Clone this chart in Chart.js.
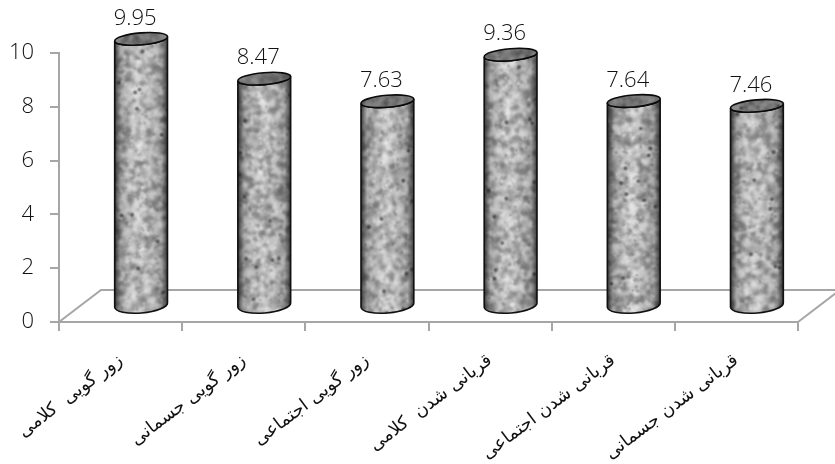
<!DOCTYPE html>
<html lang="fa">
<head>
<meta charset="utf-8">
<title>chart</title>
<script src="https://cdn.jsdelivr.net/npm/chart.js@4"></script>
<style>
  html, body { margin: 0; padding: 0; background: #fff; }
  canvas { display: block; }
</style>
</head>
<body>
<canvas id="myChart" width="835" height="464"></canvas>
<script>
const categories = [
  "زور گویی  کلامی",
  "زور گویی جسمانی",
  "زور گویی اجتماعی",
  "قربانی شدن  کلامی",
  "قربانی شدن اجتماعی",
  "قربانی شدن جسمانی",
];
const values = [9.95, 8.47, 7.63, 9.36, 7.64, 7.46];
const valueLabels = ["9.95", "8.47", "7.63", "9.36", "7.64", "7.46"];

const axisColor = "#a6a6a6";
const depthX = 42; // 3d floor depth
const depthY = 32;

// stone texture for the cylinders (only the fill, not data)
function makeTexture(w, h, seed) {
  const c = document.createElement("canvas");
  c.width = w;
  c.height = h;
  const g = c.getContext("2d");
  let s = seed;
  const rnd = () => {
    s = (s * 16807) % 2147483647;
    return s / 2147483647;
  };
  g.fillStyle = "#b0b0b0";
  g.fillRect(0, 0, w, h);
  for (let i = 0; i < w * h / 9; i++) {
    const x = rnd() * w;
    const y = rnd() * h;
    const r = 2 + rnd() * 4;
    const light = rnd() > 0.42;
    const col = light ? "235,235,235" : "105,105,105";
    const grad = g.createRadialGradient(x, y, 0, x, y, r);
    grad.addColorStop(0, `rgba(${col},0.5)`);
    grad.addColorStop(1, `rgba(${col},0)`);
    g.fillStyle = grad;
    g.fillRect(x - r, y - r, r * 2, r * 2);
  }
  for (let i = 0; i < h / 22; i++) {
    const x = rnd() * w;
    const y = rnd() * h;
    const grad = g.createRadialGradient(x, y, 0, x, y, 3);
    grad.addColorStop(0, "rgba(35,35,35,0.8)");
    grad.addColorStop(1, "rgba(35,35,35,0)");
    g.fillStyle = grad;
    g.fillRect(x - 3, y - 3, 6, 6);
  }
  return c;
}

function drawCylinder(ctx, cx, top, base, rx, seed) {
  const tilt = -0.085;
  const ryTop = 6;
  const ryBase = 8;
  const dx = rx * Math.cos(tilt);
  const dy = rx * Math.sin(tilt);
  const tex = makeTexture(Math.ceil(rx * 2) + 2, Math.ceil(base - top) + 20, seed);

  ctx.save();
  ctx.beginPath();
  ctx.moveTo(cx - dx, top - dy);
  ctx.lineTo(cx - dx, base - dy);
  ctx.ellipse(cx, base, rx, ryBase, tilt, Math.PI, 0, true);
  ctx.lineTo(cx + dx, top + dy);
  ctx.ellipse(cx, top, rx, ryTop, tilt, 0, Math.PI, false);
  ctx.closePath();
  ctx.save();
  ctx.clip();
  ctx.drawImage(tex, cx - rx - 1, top - 8);
  // round shading
  const shade = ctx.createLinearGradient(cx - rx, 0, cx + rx, 0);
  shade.addColorStop(0, "rgba(15,15,15,0.8)");
  shade.addColorStop(0.12, "rgba(40,40,40,0.22)");
  shade.addColorStop(0.45, "rgba(255,255,255,0.1)");
  shade.addColorStop(0.88, "rgba(40,40,40,0.22)");
  shade.addColorStop(1, "rgba(15,15,15,0.8)");
  ctx.fillStyle = shade;
  ctx.fillRect(cx - rx - 1, top - 10, rx * 2 + 2, base - top + 30);
  ctx.restore();
  ctx.strokeStyle = "#111";
  ctx.lineWidth = 1.6;
  ctx.stroke();

  // top cap
  ctx.beginPath();
  ctx.ellipse(cx, top, rx, ryTop, tilt, 0, Math.PI * 2);
  ctx.save();
  ctx.clip();
  ctx.drawImage(tex, cx - rx - 1, top - 8);
  ctx.fillStyle = "rgba(40,40,40,0.45)";
  ctx.fillRect(cx - rx - 1, top - 10, rx * 2 + 2, 20);
  ctx.restore();
  ctx.strokeStyle = "#0a0a0a";
  ctx.lineWidth = 1.6;
  ctx.stroke();
  ctx.restore();
}

const cylinderPlugin = {
  id: "cylinders",
  beforeDatasetsDraw(chart) {
    // floor of the 3d chart
    const { ctx, chartArea: a } = chart;
    ctx.save();
    ctx.strokeStyle = axisColor;
    ctx.lineWidth = 2;
    ctx.beginPath();
    ctx.moveTo(a.left, a.bottom);
    ctx.lineTo(a.left + depthX, a.bottom - depthY);
    ctx.lineTo(a.right + depthX, a.bottom - depthY);
    ctx.moveTo(a.right, a.bottom);
    ctx.lineTo(a.right + depthX, a.bottom - depthY);
    ctx.stroke();
    ctx.restore();
  },
  afterDatasetsDraw(chart) {
    const { ctx } = chart;
    const meta = chart.getDatasetMeta(0);
    meta.data.forEach((bar, i) => {
      const cx = bar.x + 20.5;
      drawCylinder(ctx, cx, bar.y - 15.5, bar.base - 16, 26.5, 1234 + i * 977);
      ctx.save();
      ctx.fillStyle = "#111";
      ctx.font = '300 22px "Open Sans"';
      ctx.textAlign = "center";
      ctx.textBaseline = "middle";
      ctx.fillText(valueLabels[i], bar.x + 14.5, bar.y - 36);
      ctx.restore();
    });
  },
};

new Chart(document.getElementById("myChart").getContext("2d"), {
  type: "bar",
  data: {
    labels: categories,
    datasets: [
      {
        data: values,
        backgroundColor: "rgba(0,0,0,0)",
        borderWidth: 0,
      },
    ],
  },
  options: {
    responsive: false,
    animation: false,
    devicePixelRatio: 1,
    layout: { padding: { top: 53, right: 37, left: 0, bottom: 0 } },
    plugins: {
      legend: { display: false },
      tooltip: { enabled: false },
    },
    scales: {
      x: {
        afterFit: (scale) => {
          scale.height = 142;
          scale.paddingLeft = 0; // long rotated labels push the axis right otherwise
          scale.paddingRight = 0;
        },
        border: { color: axisColor, width: 2 },
        grid: { color: axisColor, lineWidth: 2, drawOnChartArea: false, tickLength: 9, offset: true },
        ticks: {
          autoSkip: false,
          minRotation: 37,
          maxRotation: 37,
          padding: 19,
          color: "#111",
          font: { family: '"DejaVu Sans"', size: 18 },
        },
      },
      y: {
        min: 0,
        max: 10,
        afterFit: (scale) => {
          scale.width = 59;
        },
        border: { color: axisColor, width: 2 },
        grid: { color: axisColor, lineWidth: 2, drawOnChartArea: false, tickLength: 9 },
        ticks: {
          stepSize: 2,
          padding: 16,
          color: "#111",
          font: { family: '"Open Sans"', size: 22, weight: "300" },
        },
      },
    },
  },
  plugins: [cylinderPlugin],
});
</script>
</body>
</html>
